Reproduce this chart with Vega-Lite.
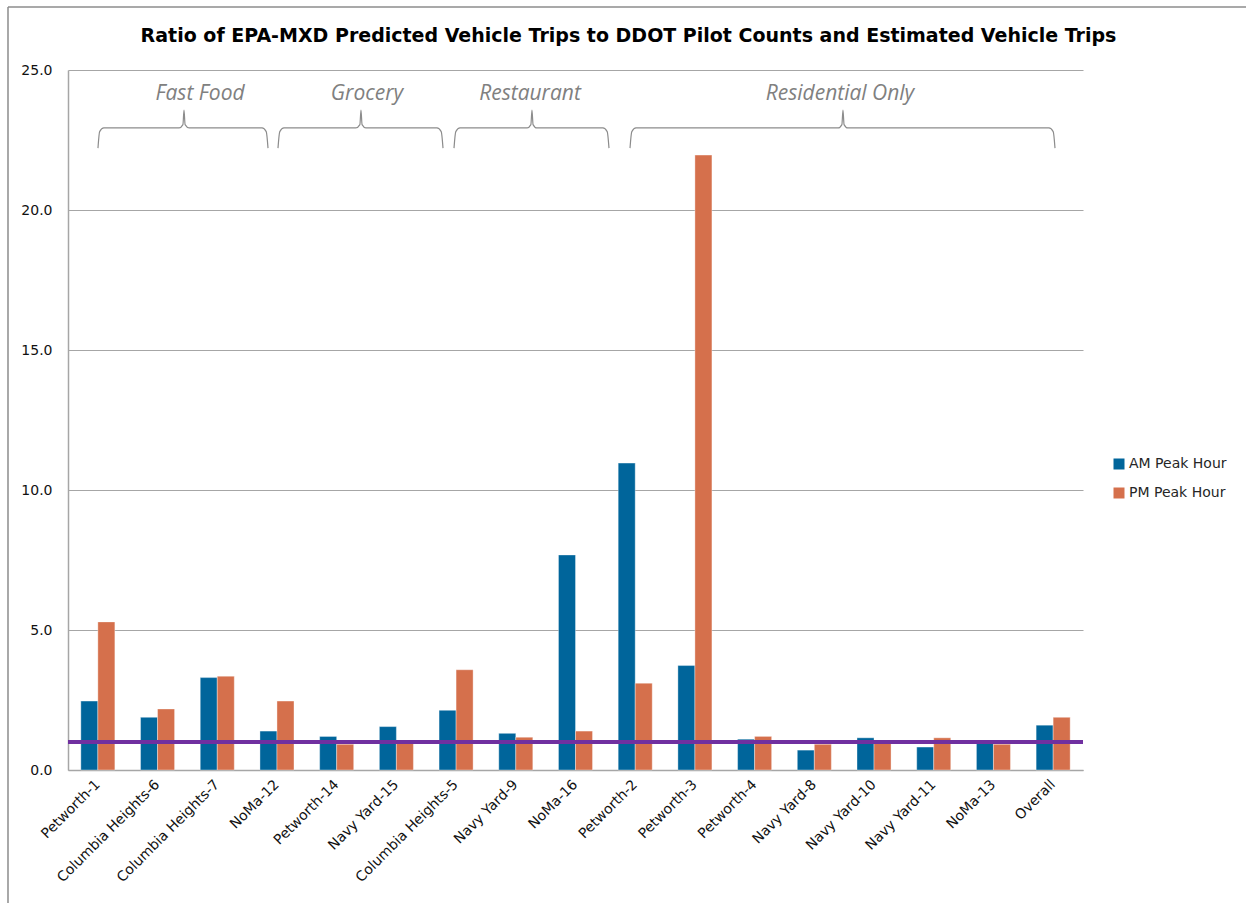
{
  "$schema": "https://vega.github.io/schema/vega-lite/v6.json",
  "width": 1015,
  "height": 700,
  "autosize": {"type": "none"},
  "padding": {"left": 68, "top": 70, "right": 163, "bottom": 133},
  "background": "white",
  "config": {
    "view": {"stroke": null},
    "font": "DejaVu Sans"
  },
  "title": {
    "text": "Ratio of EPA-MXD Predicted Vehicle Trips to DDOT Pilot Counts and Estimated Vehicle Trips",
    "fontSize": 19,
    "fontWeight": "bold",
    "font": "DejaVu Sans",
    "color": "#000000",
    "anchor": "middle",
    "frame": "group",
    "dx": 53,
    "offset": -40
  },
  "datasets": {
    "bars": [
      {"site": "Petworth-1", "series": "AM Peak Hour", "value": 2.46},
      {"site": "Petworth-1", "series": "PM Peak Hour", "value": 5.29},
      {"site": "Columbia Heights-6", "series": "AM Peak Hour", "value": 1.88},
      {"site": "Columbia Heights-6", "series": "PM Peak Hour", "value": 2.18},
      {"site": "Columbia Heights-7", "series": "AM Peak Hour", "value": 3.3},
      {"site": "Columbia Heights-7", "series": "PM Peak Hour", "value": 3.35},
      {"site": "NoMa-12", "series": "AM Peak Hour", "value": 1.39},
      {"site": "NoMa-12", "series": "PM Peak Hour", "value": 2.46},
      {"site": "Petworth-14", "series": "AM Peak Hour", "value": 1.2},
      {"site": "Petworth-14", "series": "PM Peak Hour", "value": 0.92},
      {"site": "Navy Yard-15", "series": "AM Peak Hour", "value": 1.55},
      {"site": "Navy Yard-15", "series": "PM Peak Hour", "value": 0.98},
      {"site": "Columbia Heights-5", "series": "AM Peak Hour", "value": 2.13},
      {"site": "Columbia Heights-5", "series": "PM Peak Hour", "value": 3.58},
      {"site": "Navy Yard-9", "series": "AM Peak Hour", "value": 1.31},
      {"site": "Navy Yard-9", "series": "PM Peak Hour", "value": 1.17},
      {"site": "NoMa-16", "series": "AM Peak Hour", "value": 7.68},
      {"site": "NoMa-16", "series": "PM Peak Hour", "value": 1.39},
      {"site": "Petworth-2", "series": "AM Peak Hour", "value": 10.96},
      {"site": "Petworth-2", "series": "PM Peak Hour", "value": 3.1},
      {"site": "Petworth-3", "series": "AM Peak Hour", "value": 3.73},
      {"site": "Petworth-3", "series": "PM Peak Hour", "value": 21.96},
      {"site": "Petworth-4", "series": "AM Peak Hour", "value": 1.1},
      {"site": "Petworth-4", "series": "PM Peak Hour", "value": 1.2},
      {"site": "Navy Yard-8", "series": "AM Peak Hour", "value": 0.71},
      {"site": "Navy Yard-8", "series": "PM Peak Hour", "value": 0.92},
      {"site": "Navy Yard-10", "series": "AM Peak Hour", "value": 1.15},
      {"site": "Navy Yard-10", "series": "PM Peak Hour", "value": 0.98},
      {"site": "Navy Yard-11", "series": "AM Peak Hour", "value": 0.82},
      {"site": "Navy Yard-11", "series": "PM Peak Hour", "value": 1.15},
      {"site": "NoMa-13", "series": "AM Peak Hour", "value": 0.99},
      {"site": "NoMa-13", "series": "PM Peak Hour", "value": 0.92},
      {"site": "Overall", "series": "AM Peak Hour", "value": 1.6},
      {"site": "Overall", "series": "PM Peak Hour", "value": 1.88}
    ],
    "braces": [
      {"group": "Fast Food", "ord": 1, "bx": 0.502, "by": 22.21},
      {"group": "Fast Food", "ord": 2, "bx": 0.53, "by": 22.8},
      {"group": "Fast Food", "ord": 3, "bx": 0.6, "by": 22.93},
      {"group": "Fast Food", "ord": 4, "bx": 1.86, "by": 22.93},
      {"group": "Fast Food", "ord": 5, "bx": 1.925, "by": 23.05},
      {"group": "Fast Food", "ord": 6, "bx": 1.943, "by": 23.57},
      {"group": "Fast Food", "ord": 7, "bx": 1.961, "by": 23.05},
      {"group": "Fast Food", "ord": 8, "bx": 2.03, "by": 22.93},
      {"group": "Fast Food", "ord": 9, "bx": 3.25, "by": 22.93},
      {"group": "Fast Food", "ord": 10, "bx": 3.32, "by": 22.8},
      {"group": "Fast Food", "ord": 11, "bx": 3.35, "by": 22.21},
      {"group": "Grocery", "ord": 1, "bx": 3.517, "by": 22.21},
      {"group": "Grocery", "ord": 2, "bx": 3.547, "by": 22.8},
      {"group": "Grocery", "ord": 3, "bx": 3.617, "by": 22.93},
      {"group": "Grocery", "ord": 4, "bx": 4.82, "by": 22.93},
      {"group": "Grocery", "ord": 5, "bx": 4.889, "by": 23.05},
      {"group": "Grocery", "ord": 6, "bx": 4.907, "by": 23.57},
      {"group": "Grocery", "ord": 7, "bx": 4.925, "by": 23.05},
      {"group": "Grocery", "ord": 8, "bx": 4.99, "by": 22.93},
      {"group": "Grocery", "ord": 9, "bx": 6.18, "by": 22.93},
      {"group": "Grocery", "ord": 10, "bx": 6.251, "by": 22.8},
      {"group": "Grocery", "ord": 11, "bx": 6.281, "by": 22.21},
      {"group": "Restaurant", "ord": 1, "bx": 6.465, "by": 22.21},
      {"group": "Restaurant", "ord": 2, "bx": 6.495, "by": 22.8},
      {"group": "Restaurant", "ord": 3, "bx": 6.565, "by": 22.93},
      {"group": "Restaurant", "ord": 4, "bx": 7.69, "by": 22.93},
      {"group": "Restaurant", "ord": 5, "bx": 7.753, "by": 23.05},
      {"group": "Restaurant", "ord": 6, "bx": 7.771, "by": 23.57},
      {"group": "Restaurant", "ord": 7, "bx": 7.789, "by": 23.05},
      {"group": "Restaurant", "ord": 8, "bx": 7.85, "by": 22.93},
      {"group": "Restaurant", "ord": 9, "bx": 8.96, "by": 22.93},
      {"group": "Restaurant", "ord": 10, "bx": 9.031, "by": 22.8},
      {"group": "Restaurant", "ord": 11, "bx": 9.061, "by": 22.21},
      {"group": "Residential Only", "ord": 1, "bx": 9.413, "by": 22.21},
      {"group": "Residential Only", "ord": 2, "bx": 9.443, "by": 22.8},
      {"group": "Residential Only", "ord": 3, "bx": 9.513, "by": 22.93},
      {"group": "Residential Only", "ord": 4, "bx": 12.9, "by": 22.93},
      {"group": "Residential Only", "ord": 5, "bx": 12.962, "by": 23.05},
      {"group": "Residential Only", "ord": 6, "bx": 12.98, "by": 23.57},
      {"group": "Residential Only", "ord": 7, "bx": 12.998, "by": 23.05},
      {"group": "Residential Only", "ord": 8, "bx": 13.06, "by": 22.93},
      {"group": "Residential Only", "ord": 9, "bx": 16.43, "by": 22.93},
      {"group": "Residential Only", "ord": 10, "bx": 16.501, "by": 22.8},
      {"group": "Residential Only", "ord": 11, "bx": 16.531, "by": 22.21}
    ],
    "groupLabels": [
      {"label": "Fast Food", "bx": 2.211, "by": 24.14},
      {"label": "Grocery", "bx": 5.008, "by": 24.14},
      {"label": "Restaurant", "bx": 7.738, "by": 24.14},
      {"label": "Residential Only", "bx": 12.93, "by": 24.14}
    ],
    "frame": [
      {"x1": -1.005, "x2": 20, "y1": 27.25, "y2": 27.25},
      {"x1": -1.005, "x2": -1.005, "y1": 27.25, "y2": -6}
    ],
    "baseline": [{"ratio": 1}]
  },
  "layer": [
    {
      "data": {"name": "bars"},
      "mark": {"type": "bar", "stroke": "white", "strokeWidth": 0.6, "strokeOpacity": 0.6},
      "encoding": {
        "x": {
          "field": "site",
          "type": "nominal",
          "sort": null,
          "scale": {"paddingInner": 0.43, "paddingOuter": 0.215},
          "axis": {
            "title": null,
            "labelAngle": -45,
            "labelAlign": "right",
            "labelBaseline": "middle",
            "labelFontSize": 14,
            "labelColor": "#111111",
            "labelPadding": 12,
            "ticks": false,
            "domainColor": "#A6A6A6",
            "domainWidth": 1.5
          }
        },
        "xOffset": {
          "field": "series",
          "type": "nominal",
          "sort": ["AM Peak Hour", "PM Peak Hour"],
          "scale": {"paddingInner": 0, "paddingOuter": 0}
        },
        "y": {
          "field": "value",
          "type": "quantitative",
          "title": null,
          "scale": {"domain": [0, 25], "nice": false, "zero": true},
          "axis": {
            "values": [0, 5, 10, 15, 20, 25],
            "format": ".1f",
            "grid": true,
            "gridColor": "#A6A6A6",
            "gridWidth": 1,
            "ticks": false,
            "domainColor": "#A6A6A6",
            "domainWidth": 1.5,
            "labelFontSize": 14,
            "labelColor": "#111111",
            "labelPadding": 16
          }
        },
        "color": {
          "field": "series",
          "type": "nominal",
          "scale": {"domain": ["AM Peak Hour", "PM Peak Hour"], "range": ["#00659B", "#D5704C"]},
          "legend": {
            "title": null,
            "orient": "none",
            "legendX": 1044,
            "legendY": 387,
            "symbolType": "square",
            "symbolSize": 121,
            "symbolStrokeWidth": 0,
            "symbolOpacity": 1,
            "labelFontSize": 14,
            "labelColor": "#262626",
            "labelOffset": 3,
            "rowPadding": 15
          }
        }
      }
    },
    {
      "data": {"name": "baseline"},
      "mark": {"type": "rule", "color": "#7030A0", "strokeWidth": 4},
      "encoding": {
        "y": {"field": "ratio", "type": "quantitative", "title": null}
      }
    },
    {
      "data": {"name": "braces"},
      "mark": {"type": "line", "color": "#8C8C8C", "strokeWidth": 1.2, "interpolate": "monotone"},
      "encoding": {
        "x": {"field": "bx", "type": "quantitative", "scale": {"domain": [0, 17], "nice": false, "zero": false}, "axis": null},
        "y": {"field": "by", "type": "quantitative", "title": null},
        "detail": {"field": "group"},
        "order": {"field": "ord"}
      }
    },
    {
      "data": {"name": "groupLabels"},
      "mark": {"type": "text", "font": "Open Sans", "fontStyle": "italic", "fontSize": 21, "color": "#808080", "baseline": "middle", "align": "center"},
      "encoding": {
        "x": {"field": "bx", "type": "quantitative", "scale": {"domain": [0, 17], "nice": false, "zero": false}, "axis": null},
        "y": {"field": "by", "type": "quantitative", "title": null},
        "text": {"field": "label"}
      }
    },
    {
      "data": {"name": "frame"},
      "mark": {"type": "rule", "color": "#8C8C8C", "strokeWidth": 1.5},
      "encoding": {
        "x": {"field": "x1", "type": "quantitative", "scale": {"domain": [0, 17], "nice": false, "zero": false}, "axis": null},
        "x2": {"field": "x2"},
        "y": {"field": "y1", "type": "quantitative", "title": null},
        "y2": {"field": "y2"}
      }
    }
  ],
  "resolve": {"scale": {"x": "independent"}}
}
